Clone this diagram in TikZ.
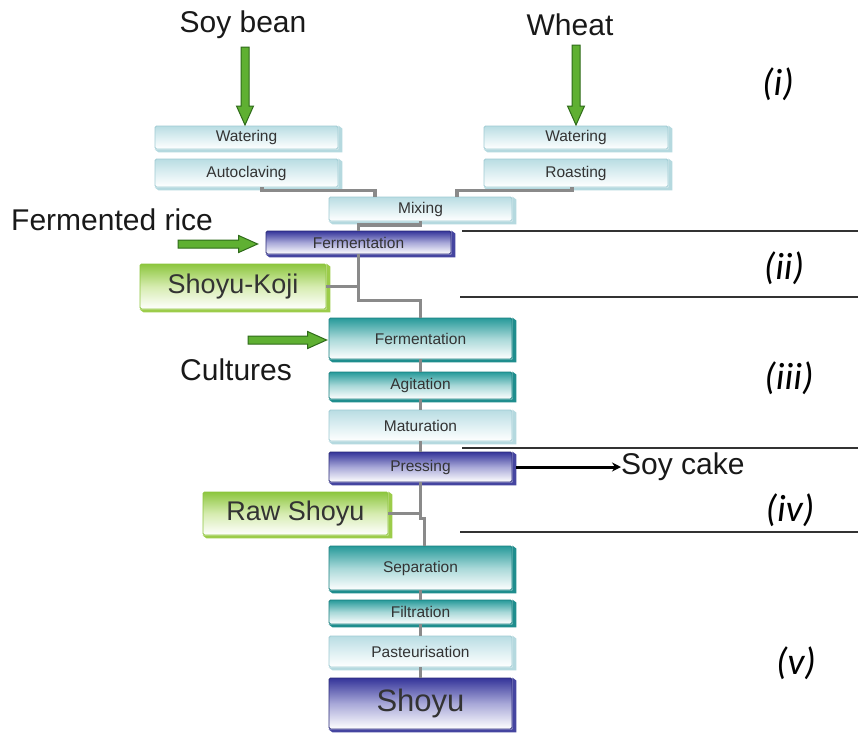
\documentclass[tikz,border=0pt]{standalone}
\usepackage{fontspec}
\setmainfont{Liberation Sans}
\newfontfamily\numfont{Carlito}
\usetikzlibrary{calc,arrows.meta}
\definecolor{lightT}{HTML}{B9DDE3}
\definecolor{lightM}{HTML}{DDEFF2}
\definecolor{lightB}{HTML}{9FCBD3}
\definecolor{lightside}{HTML}{B5D9DF}
\definecolor{tealT}{HTML}{279A9A}
\definecolor{tealM}{HTML}{A8D8D8}
\definecolor{tealB}{HTML}{1A8080}
\definecolor{tealside}{HTML}{1F8D8D}
\definecolor{blueT}{HTML}{35359A}
\definecolor{blueM}{HTML}{A8A8D8}
\definecolor{blueB}{HTML}{2A2A78}
\definecolor{blueside}{HTML}{4545A0}
\definecolor{greenT}{HTML}{8DC63F}
\definecolor{greenM}{HTML}{D6ECB0}
\definecolor{greenB}{HTML}{8CC43C}
\definecolor{greenside}{HTML}{9CCC4A}
\definecolor{connGrey}{HTML}{8A8A8A}
\definecolor{arrowgreen}{HTML}{5FB032}
\definecolor{arrowdark}{HTML}{2F6B1A}
\definecolor{sepline}{HTML}{333333}
\tikzset{
  box/.style={draw, rounded corners=1.5pt, line width=0.8pt, inner sep=0pt,
    font=\fontsize{15.5}{17}\selectfont, text=black!80},
  lightbox/.style={box, draw=lightB, top color=lightT, bottom color=white, middle color=lightM},
  tealbox/.style={box, draw=tealB, top color=tealT, bottom color=white, middle color=tealM},
  bluebox/.style={box, draw=blueB, top color=blueT, bottom color=white, middle color=blueM},
  greenbox/.style={box, draw=greenB, top color=greenT, bottom color=white, middle color=greenM},
  biglabel/.style={font=\fontsize{30}{34}\selectfont, inner sep=0pt, text=black!90},
  numlabel/.style={font=\numfont\itshape\fontsize{38}{42}\selectfont, inner sep=0pt},
  conn/.style={draw=connGrey, line width=3.5pt},
  sepl/.style={draw=sepline, line width=1.6pt},
  fatarrow/.style={draw=arrowdark, fill=arrowgreen, line width=1pt, line join=miter,
    to path={
      ($(\tikztotarget)!19pt!(\tikztostart)$) coordinate (fah)
      ($(\tikztostart)!4pt!90:(\tikztotarget)$) -- ($(fah)!4pt!90:(\tikztotarget)$)
      -- ($(fah)!8.5pt!90:(\tikztotarget)$) -- (\tikztotarget)
      -- ($(fah)!8.5pt!-90:(\tikztotarget)$) -- ($(fah)!4pt!-90:(\tikztotarget)$)
      -- ($(\tikztostart)!4pt!-90:(\tikztotarget)$) -- cycle}},
  blackarrow/.style={draw=black, line width=3pt, -{Stealth[length=9pt,width=9pt]}}
}
\newcommand\procbox[7]{%
  \node[#2box, minimum width=#5pt, minimum height=#6pt] (#1) at (#3,#4) {#7};
  \fill[#2side] (#1.north east) -- ++(4,3) -- ($(#1.south east)+(4,3)$)
    -- ($(#1.south west)+(4,3)$) -- (#1.south west) -- (#1.south east) -- cycle;
}
\begin{document}
\begin{tikzpicture}[x=1pt,y=-1pt]
\useasboundingbox[fill=white] (0,0) rectangle (858,734);

% separator lines
\draw[sepl] (462,231) -- (858,231);
\draw[sepl] (460,297) -- (858,297);
\draw[sepl] (462,448) -- (858,448);
\draw[sepl] (460,532) -- (858,532);

% boxes
\procbox{wat1}{light}{246.5}{137.5}{183}{23}{Watering}
\procbox{autoc}{light}{246.5}{173}{183}{28}{Autoclaving}
\procbox{wat2}{light}{576}{137.5}{184}{23}{Watering}
\procbox{roast}{light}{576}{173}{184}{28}{Roasting}
\procbox{mix}{light}{420.5}{209}{183}{24}{Mixing}
\procbox{ferm1}{blue}{358.5}{242.5}{185}{23}{Fermentation}
\procbox{koji}{green}{233}{286.5}{186}{45}{\fontsize{27}{30}\selectfont Shoyu-Koji}
\procbox{ferm2}{teal}{420.5}{338.5}{183}{41}{Fermentation}
\procbox{agit}{teal}{420.5}{385.5}{183}{27}{Agitation}
\procbox{mat}{light}{420.5}{425.5}{183}{31}{Maturation}
\procbox{press}{blue}{420.5}{467}{183}{30}{Pressing}
\procbox{raw}{green}{295.5}{513.5}{185}{43}{\fontsize{27}{30}\selectfont Raw Shoyu}
\procbox{sep}{teal}{420.5}{568}{183}{44}{Separation}
\procbox{filt}{teal}{420.5}{612}{183}{24}{Filtration}
\procbox{past}{light}{420.5}{651.5}{183}{31}{Pasteurisation}
\procbox{shoyu}{blue}{420.5}{703.5}{183}{51}{\fontsize{31}{34}\selectfont Shoyu}

% labels
\node[biglabel] (soy) at (243,25) {Soy bean};
\node[biglabel] (wheat) at (570,25) {Wheat};
\node[biglabel, anchor=west] (rice) at (11,220) {Fermented rice};
\node[biglabel, anchor=west] (cult) at (180,370) {Cultures};
\node[biglabel, anchor=west] (cake) at (621,467) {Soy cake};
\node[numlabel] (n1) at (778,84) {(i)};
\node[numlabel] (n2) at (784,268) {(ii)};
\node[numlabel] (n3) at (789,378) {(iii)};
\node[numlabel] (n4) at (790,510) {(iv)};
\node[numlabel] (n5) at (796,663) {(v)};

% grey connectors
\draw[conn] ([xshift=15.5pt]autoc.south) -- ++(0,3) -| ([xshift=-45.5pt]mix.north);
\draw[conn] ([xshift=-4pt]roast.south) -- ++(0,3) -| ([xshift=36.5pt]mix.north);
\draw[conn] (mix.south) -- ++(0,3.5) -| (ferm1.north);
\draw[conn] (ferm1.south) -- ++(0,46) -| (ferm2.north);
\draw[conn] (koji.east) -- (koji.east -| ferm1.south);
\draw[conn] (ferm2.south) -- (agit.north);
\draw[conn] (agit.south) -- (mat.north);
\draw[conn] (mat.south) -- (press.north);
\draw[conn] (press.south) -- ++(0,36) -- ++(4,0) -- (sep.north -| 424.5,0);
\draw[conn] (raw.east) -- (raw.east -| press.south);
\draw[conn] (sep.south) -- (filt.north);
\draw[conn] (filt.south) -- (past.north);
\draw[conn] (past.south) -- (shoyu.north);

% green input arrows
\coordinate (soyA) at (245,47);
\coordinate (soyB) at (245,125);
\coordinate (wheatA) at (576,45);
\coordinate (wheatB) at (576,125);
\coordinate (riceA) at (178,244);
\coordinate (cultA) at (248,340);
\draw[fatarrow] (soyA) to (soyB);
\draw[fatarrow] (wheatA) to (wheatB);
\draw[fatarrow] (riceA) to ([xshift=-8pt]ferm1.west |- riceA);
\draw[fatarrow] (cultA) to ([xshift=-2pt]ferm2.west |- cultA);

% soy cake arrow
\draw[blackarrow] ([xshift=4pt]press.east) -- (cake.west);
\end{tikzpicture}
\end{document}
